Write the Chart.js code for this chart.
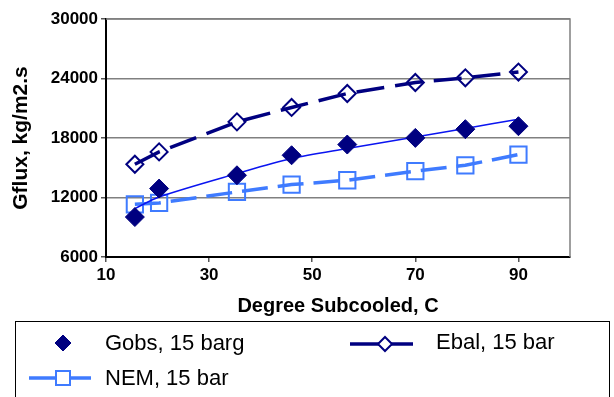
<!DOCTYPE html>
<html>
<head>
<meta charset="utf-8">
<script src="https://cdn.jsdelivr.net/npm/chart.js@4"></script>
<style>
  html, body { margin: 0; padding: 0; background: #fff; }
  #wrap { width: 614px; height: 397px; }
</style>
</head>
<body>
<div id="wrap"><canvas id="chart"></canvas></div>
<script>
// valores
const subcooled = [15.6, 20.3, 35.4, 46, 56.8, 70, 79.7, 90];
const gobs = [10030, 12900, 14240, 16260, 17340, 18010, 18890, 19190];
const gobsFit = [10880, 12050, 14410, 15930, 16940, 18110, 18960, 19900];
const ebal = [15350, 16600, 19630, 21080, 22490, 23600, 24070, 24650];
const nem = [11310, 11450, 12560, 13300, 13740, 14650, 15250, 16330];

const xTicks = [10, 30, 50, 70, 90];
const yTicks = [6000, 12000, 18000, 24000, 30000];

const labels = ['Gobs, 15 barg', 'Ebal, 15 bar', 'NEM, 15 bar'];

const NAVY = '#000080';
const LIGHT = '#3F7BFF';
const FONT = '"Liberation Sans", Arial, sans-serif';

const pts = arr => arr.map((v, i) => ({ x: subcooled[i], y: v }));

// marco gris del area + leyenda propia
const frameAndLegend = {
    id: 'frameAndLegend',
    beforeDatasetsDraw(chart) {
        const { ctx, chartArea: a } = chart;
        ctx.save();
        ctx.strokeStyle = '#808080';
        ctx.lineWidth = 1.5;
        ctx.beginPath();
        ctx.moveTo(a.left, a.top);
        ctx.lineTo(a.right, a.top);
        ctx.lineTo(a.right, a.bottom);
        ctx.stroke();
        ctx.restore();
    },
    afterDraw(chart) {
        const ctx = chart.ctx;
        ctx.save();
        ctx.strokeStyle = '#000';
        ctx.lineWidth = 1;
        ctx.strokeRect(15.5, 321.5, 594, 100);

        ctx.font = '22px ' + FONT;
        ctx.fillStyle = '#000';
        ctx.textBaseline = 'middle';

        // Gobs
        const g = chart.data.datasets[0];
        diamond(ctx, 63, 343, 8, g.pointBackgroundColor, g.pointBorderColor, 1);
        ctx.fillStyle = '#000';
        ctx.fillText(labels[0], 105, 344);

        // Ebal
        const e = chart.data.datasets[2];
        ctx.strokeStyle = e.borderColor;
        ctx.lineWidth = 3.5;
        ctx.beginPath(); ctx.moveTo(350, 344); ctx.lineTo(413, 344); ctx.stroke();
        diamond(ctx, 385, 344, 7, '#fff', e.borderColor, 2);
        ctx.fillStyle = '#000';
        ctx.fillText(labels[1], 436, 343);

        // NEM
        const n = chart.data.datasets[3];
        ctx.strokeStyle = n.borderColor;
        ctx.lineWidth = 3.5;
        ctx.beginPath(); ctx.moveTo(29, 378); ctx.lineTo(91, 378); ctx.stroke();
        ctx.fillStyle = '#fff';
        ctx.lineWidth = 2;
        ctx.fillRect(56, 371, 14, 14);
        ctx.strokeRect(56, 371, 14, 14);
        ctx.fillStyle = '#000';
        ctx.fillText(labels[2], 105, 379);
        ctx.restore();
    }
};

function diamond(ctx, x, y, r, fill, stroke, lw) {
    ctx.beginPath();
    ctx.moveTo(x - r, y);
    ctx.lineTo(x, y - r);
    ctx.lineTo(x + r, y);
    ctx.lineTo(x, y + r);
    ctx.closePath();
    ctx.fillStyle = fill;
    ctx.fill();
    ctx.strokeStyle = stroke;
    ctx.lineWidth = lw;
    ctx.stroke();
}

new Chart(document.getElementById('chart'), {
    type: 'scatter',
    data: {
        datasets: [
            {
                label: labels[0],
                data: pts(gobs),
                showLine: false,
                pointStyle: 'rectRot',
                pointRadius: 9.5,
                pointBackgroundColor: NAVY,
                pointBorderColor: NAVY,
                pointBorderWidth: 1,
                order: 0
            },
            {
                label: 'fit',
                data: pts(gobsFit),
                showLine: true,
                borderColor: '#0A14F0',
                borderWidth: 1.5,
                pointRadius: 0,
                tension: 0.3,
                order: 1
            },
            {
                label: labels[1],
                data: pts(ebal),
                showLine: true,
                borderColor: NAVY,
                borderWidth: 3.5,
                borderDash: [28, 11],
                pointStyle: 'rectRot',
                pointRadius: 8.5,
                pointBackgroundColor: 'rgba(255,255,255,0)',
                pointBorderColor: NAVY,
                pointBorderWidth: 2,
                order: 2
            },
            {
                label: labels[2],
                data: pts(nem),
                showLine: true,
                borderColor: LIGHT,
                borderWidth: 3.5,
                borderDash: [26, 10],
                pointStyle: 'rect',
                pointRadius: 11.5,
                pointBackgroundColor: 'rgba(255,255,255,0)',
                pointBorderColor: LIGHT,
                pointBorderWidth: 2,
                order: 3
            }
        ]
    },
    options: {
        responsive: true,
        maintainAspectRatio: false,
        animation: false,
        layout: { padding: { left: 5, right: 44, top: 19, bottom: 75 } },
        plugins: {
            legend: { display: false },
            tooltip: { enabled: false }
        },
        scales: {
            x: {
                type: 'linear',
                min: 10,
                max: 100,
                afterBuildTicks: s => { s.ticks = xTicks.map(v => ({ value: v })); },
                afterFit: s => { s.height = 65; },
                grid: { drawOnChartArea: false, drawTicks: true, tickLength: 5, color: '#555', lineWidth: 1.5 },
                border: { color: '#000', width: 2 },
                ticks: { color: '#000', font: { family: FONT, size: 17, weight: 'bold' }, padding: 3, maxRotation: 0 },
                title: { display: true, text: 'Degree Subcooled, C', color: '#000', font: { family: FONT, size: 20, weight: 'bold' }, padding: 4 }
            },
            y: {
                min: 6000,
                max: 30000,
                afterBuildTicks: s => { s.ticks = yTicks.map(v => ({ value: v })); },
                afterFit: s => { s.width = 101; },
                grid: { color: '#808080', lineWidth: 1.5, tickLength: 5, tickColor: '#555' },
                border: { color: '#000', width: 2 },
                ticks: { color: '#000', font: { family: FONT, size: 17, weight: 'bold' }, padding: 3, callback: v => String(v) },
                title: { display: true, text: 'Gflux, kg/m2.s', color: '#000', font: { family: FONT, size: 21, weight: 'bold' }, padding: 4 }
            }
        }
    },
    plugins: [frameAndLegend]
});
</script>
</body>
</html>
